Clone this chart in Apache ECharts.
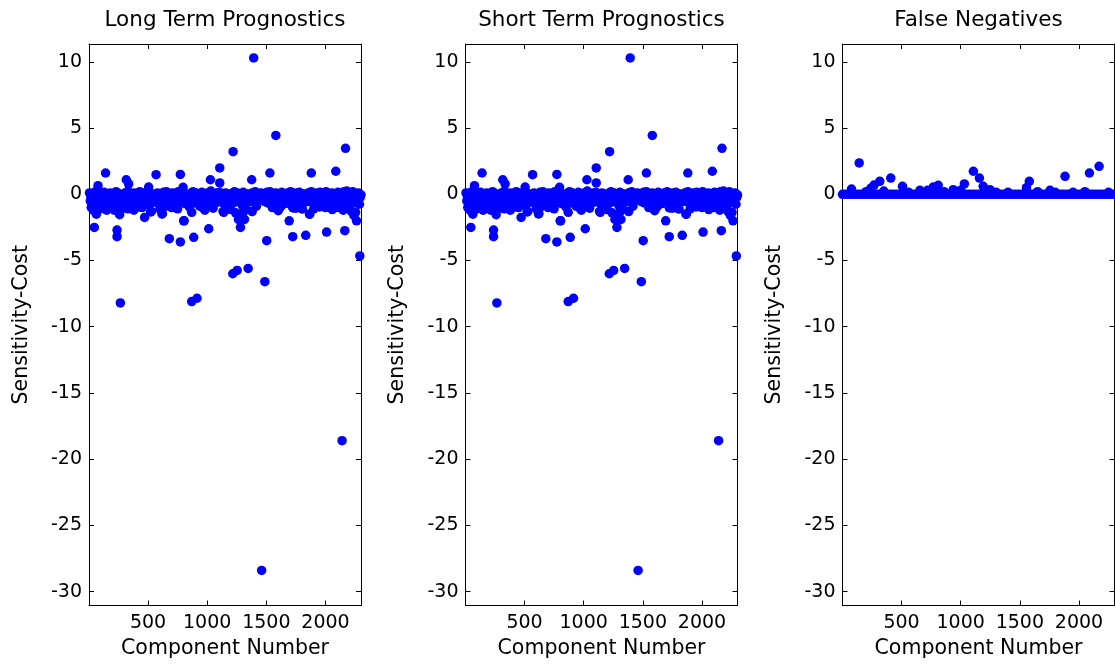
<!DOCTYPE html>
<html>
<head>
<meta charset="utf-8">
<script src="https://cdn.jsdelivr.net/npm/echarts@6/dist/echarts.min.js"></script>
<style>html,body{margin:0;padding:0;background:#fff}#c{width:1115px;height:665px}</style>
</head>
<body>
<div id="c"></div>
<script>
// ---------- DATA ----------
const panelTitles = ['Long Term Prognostics', 'Short Term Prognostics', 'False Negatives'];
const xAxisName = 'Component Number';
const yAxisName = 'Sensitivity-Cost';
const xTicks = [500, 1000, 1500, 2000];
const yTicks = [10, 5, 0, -5, -10, -15, -20, -25, -30];

// dense cluster near zero (upper row) [component, value]
const bandUpper = [[5,0.1],[30,-0.05],[55,0.2],[80,0.05],[105,-0.1],[130,0.15],[155,0.0],[180,0.1],[205,-0.05],[230,0.2],[255,0.05],[280,-0.1],[305,0.1],[330,0.25],[355,0.0],[380,0.1],[405,-0.05],[430,0.2],[455,0.1],[480,0.0],[505,0.25],[530,0.05],[555,-0.1],[580,0.1],[605,0.0],[630,0.15],[655,0.2],[680,-0.05],[705,0.1],[730,0.05],[755,0.2],[780,0.0],[805,0.1],[830,-0.1],[855,0.05],[880,0.2],[905,0.1],[930,0.0],[955,0.15],[980,0.05],[1005,0.1],[1030,0.25],[1055,0.0],[1080,0.1],[1105,0.15],[1130,-0.05],[1155,0.1],[1180,0.0],[1205,0.05],[1230,0.2],[1255,0.1],[1280,0.0],[1305,0.15],[1330,0.05],[1355,-0.05],[1380,0.1],[1405,0.2],[1430,0.0],[1455,0.1],[1480,0.05],[1505,0.15],[1530,0.2],[1555,0.0],[1580,0.1],[1605,0.05],[1630,0.15],[1655,-0.05],[1680,0.1],[1705,0.2],[1730,0.0],[1755,0.1],[1780,0.15],[1805,0.05],[1830,-0.05],[1855,0.1],[1880,0.2],[1905,0.0],[1930,0.1],[1955,0.15],[1980,0.05],[2005,0.2],[2030,-0.05],[2055,0.1],[2080,0.0],[2105,0.15],[2130,0.1],[2155,0.2],[2180,0.25],[2205,0.1],[2230,0.2],[2255,0.05],[2280,0.1],[2300,-0.05]];
// dense cluster near zero (middle row)
const bandMiddle = [[18,-0.25],[43,-0.35],[68,-0.2],[93,-0.3],[118,-0.4],[143,-0.2],[168,-0.3],[193,-0.25],[218,-0.35],[243,-0.2],[268,-0.3],[293,-0.4],[318,-0.25],[343,-0.2],[368,-0.35],[393,-0.3],[418,-0.2],[443,-0.35],[468,-0.25],[493,-0.3],[518,-0.2],[543,-0.35],[568,-0.25],[593,-0.3],[618,-0.2],[643,-0.35],[668,-0.25],[693,-0.3],[718,-0.2],[743,-0.35],[768,-0.25],[793,-0.3],[818,-0.2],[843,-0.3],[868,-0.25],[893,-0.35],[918,-0.2],[943,-0.3],[968,-0.25],[993,-0.35],[1018,-0.2],[1043,-0.3],[1068,-0.25],[1093,-0.35],[1118,-0.2],[1143,-0.3],[1168,-0.25],[1193,-0.35],[1218,-0.2],[1243,-0.3],[1268,-0.25],[1293,-0.35],[1318,-0.2],[1343,-0.3],[1368,-0.25],[1393,-0.2],[1418,-0.3],[1443,-0.25],[1468,-0.2],[1493,-0.3],[1518,-0.25],[1543,-0.2],[1568,-0.3],[1593,-0.25],[1618,-0.35],[1643,-0.2],[1668,-0.3],[1693,-0.25],[1718,-0.35],[1743,-0.2],[1768,-0.3],[1793,-0.25],[1818,-0.35],[1843,-0.2],[1868,-0.3],[1893,-0.25],[1918,-0.35],[1943,-0.2],[1968,-0.3],[1993,-0.25],[2018,-0.35],[2043,-0.2],[2068,-0.3],[2093,-0.25],[2118,-0.35],[2143,-0.2],[2168,-0.3],[2193,-0.25],[2218,-0.35],[2243,-0.2],[2268,-0.3],[2293,-0.25]];
// dense cluster near zero (lower row)
const bandLower = [[12,-0.5],[37,-0.7],[62,-0.4],[87,-0.85],[112,-0.55],[137,-0.3],[162,-0.7],[187,-0.45],[212,-0.6],[237,-0.9],[262,-0.4],[287,-0.65],[312,-0.35],[337,-0.75],[362,-0.5],[387,-0.6],[412,-0.3],[437,-0.7],[462,-0.45],[487,-0.55],[512,-0.8],[537,-0.4],[562,-0.6],[587,-0.35],[612,-0.65],[637,-0.5],[662,-0.4],[687,-0.7],[712,-0.55],[737,-0.3],[762,-0.6],[787,-0.45],[812,-0.7],[837,-0.4],[862,-0.55],[887,-0.65],[912,-0.35],[937,-0.6],[962,-0.45],[987,-0.7],[1012,-0.4],[1037,-0.55],[1062,-0.3],[1087,-0.6],[1112,-0.5],[1137,-0.65],[1162,-0.35],[1187,-0.55],[1212,-0.45],[1237,-0.6],[1262,-0.3],[1287,-0.5],[1312,-0.7],[1337,-0.4],[1362,-0.55],[1387,-0.35],[1412,-0.6],[1437,-0.45],[1462,-0.3],[1487,-0.55],[1512,-0.65],[1537,-0.4],[1562,-0.5],[1587,-0.35],[1612,-0.6],[1637,-0.45],[1662,-0.7],[1687,-0.4],[1712,-0.55],[1737,-0.35],[1762,-0.6],[1787,-0.45],[1812,-0.65],[1837,-0.4],[1862,-0.55],[1887,-0.3],[1912,-0.6],[1937,-0.5],[1962,-0.7],[1987,-0.4],[2012,-0.55],[2037,-0.35],[2062,-0.65],[2087,-0.5],[2112,-0.4],[2137,-0.7],[2162,-0.55],[2187,-0.8],[2212,-0.45],[2237,-0.65],[2262,-0.5],[2287,-0.75]];
// points just below the cluster
const bandBelow = [[20,-1.0],[40,-1.2],[70,-0.95],[95,-1.1],[125,-0.9],[170,-1.05],[215,-1.2],[250,-0.95],[290,-1.05],[350,-0.9],[380,-1.2],[450,-1.0],[600,-1.1],[650,-0.9],[750,-1.1],[850,-0.95],[960,-1.0],[1050,-1.05],[1200,-1.15],[1240,-1.4],[1330,-1.1],[1380,-1.3],[1620,-0.95],[1750,-1.05],[1900,-1.1],[2000,-1.0],[2150,-1.2]];

// scattered points of the long term panel
const longTermScatter = [[46,-2.5],[238,-2.7],[238,-3.2],[266,-8.2],[260,-1.54],[63,-1.5],[471,-1.75],[522,-1.33],[618,-1.48],[680,-3.35],[773,-3.6],[805,-2.0],[869,-1.36],[886,-3.25],[869,-8.1],[914,-7.85],[1013,-2.6],[1140,-1.36],[1216,-6.0],[1253,-5.75],[1264,-1.9],[1281,-2.5],[1300,-0.9],[1309,-1.3],[1346,-5.6],[1487,-6.6],[1503,-3.5],[1600,-1.24],[1693,-2.0],[1723,-1.0],[1723,-3.2],[1803,-1.1],[1833,-3.1],[1865,-1.5],[2009,-2.85],[2057,-1.15],[2163,-2.75],[2140,-18.6],[2290,-4.65],[2254,-1.36],[2262,-2.0],[1460,-28.4],
[1393,10.3],[1580,4.45],[2169,3.47],[1219,3.22],[1106,1.99],[141,1.61],[568,1.48],[773,1.5],[1027,1.1],[1106,0.86],[1376,1.1],[1530,1.61],[1880,1.61],[2087,1.74],[316,1.1],[336,0.78],[77,0.65],[796,0.53],[505,0.55],
[937,-0.9],[1134,-1.29],[1416,-0.9],[2192,-1.0],[2220,-1.3],[2240,-1.6],[1727,-1.03],[1805,-1.1],[1867,-1.49],[1315,-1.9],[1290,-1.6],[801,-2.0],[528,-1.29],[621,-1.46],[200,-1.0],[150,-1.2],[330,-1.1],[420,-0.95],[700,-1.0],[980,-1.2],[1180,-1.0],[1550,-1.0],[1950,-0.95],[2100,-1.0]];

// scattered points of the short term panel
const shortTermScatter = [[46,-2.5],[238,-2.7],[238,-3.2],[266,-8.2],[260,-1.54],[63,-1.5],[471,-1.75],[522,-1.33],[618,-1.48],[680,-3.35],[773,-3.6],[805,-2.0],[869,-1.36],[886,-3.25],[869,-8.1],[914,-7.85],[1013,-2.6],[1140,-1.36],[1216,-6.0],[1253,-5.75],[1264,-1.9],[1281,-2.5],[1300,-0.9],[1309,-1.3],[1346,-5.6],[1487,-6.6],[1503,-3.5],[1600,-1.24],[1693,-2.0],[1723,-1.0],[1723,-3.2],[1803,-1.1],[1833,-3.1],[1865,-1.5],[2009,-2.85],[2057,-1.15],[2163,-2.75],[2140,-18.6],[2290,-4.65],[2254,-1.36],[2262,-2.0],[1460,-28.4],
[1393,10.3],[1580,4.45],[2169,3.47],[1219,3.22],[1106,1.99],[141,1.61],[568,1.48],[773,1.5],[1027,1.1],[1106,0.86],[1376,1.1],[1530,1.61],[1880,1.61],[2087,1.74],[316,1.1],[336,0.78],[77,0.65],[796,0.53],[505,0.55],
[937,-0.9],[1134,-1.29],[1416,-0.9],[2192,-1.0],[2220,-1.3],[2240,-1.6],[1727,-1.03],[1805,-1.1],[1867,-1.49],[1315,-1.9],[1290,-1.6],[801,-2.0],[528,-1.29],[621,-1.46],[200,-1.0],[150,-1.2],[330,-1.1],[420,-0.95],[700,-1.0],[980,-1.2],[1180,-1.0],[1550,-1.0],[1950,-0.95],[2100,-1.0]];

// false negatives: components sitting on zero
const falseNegZeroComponents = [1,25,50,75,100,125,150,175,200,225,250,275,300,325,350,375,400,425,450,475,500,525,550,575,600,625,650,675,700,725,750,775,800,825,850,875,900,925,950,975,1000,1025,1050,1075,1100,1125,1150,1175,1200,1225,1250,1275,1300,1325,1350,1375,1400,1425,1450,1475,1500,1525,1550,1575,1600,1625,1650,1675,1700,1725,1750,1775,1800,1825,1850,1875,1900,1925,1950,1975,2000,2025,2050,2075,2100,2125,2150,2175,2200,2225,2250,2275,2300];
const falseNegZeroValues = falseNegZeroComponents.map(() => 0);
// false negatives above zero
const falseNegScatter = [[77,0.4],[142,2.37],[240,0.45],[268,0.7],[316,0.98],[409,1.23],[508,0.6],[655,0.3],[768,0.55],[810,0.68],[937,0.35],[1031,0.78],[1107,1.74],[1158,1.23],[1190,0.6],[1247,0.35],[1300,0.15],[1556,0.5],[1580,0.98],[1755,0.3],[1882,1.36],[2088,1.61],[2170,2.11],[200,0.2],[350,0.25],[560,0.15],[720,0.3],[860,0.2],[1000,0.3],[1400,0.15],[1650,0.2],[1800,0.15],[1950,0.15],[2050,0.2],[2250,0.15]];

// ---------- CHART ----------
const FONT = 'DejaVu Sans';
const X_MIN = 1, X_MAX = 2300, Y_MIN = -31.05, Y_MAX = 11.35;
const grids = [
  {left: 89, top: 44, width: 272, height: 561.5},
  {left: 465.5, top: 44, width: 272, height: 561.5},
  {left: 842.5, top: 44, width: 272, height: 561.5}
];
const blue = '#0000ff';

const xAxes = [], yAxes = [], series = [], graphics = [];
grids.forEach((g, i) => {
  const common = {
    type: 'value', gridIndex: i,
    axisLine: {show: true, onZero: false, lineStyle: {color: '#000', width: 1}},
    axisTick: {show: true, inside: true, length: 5, lineStyle: {color: '#000'}},
    splitLine: {show: false}
  };
  xAxes.push(Object.assign({}, common, {
    position: 'bottom', min: X_MIN, max: X_MAX, minInterval: 500, maxInterval: 500, splitNumber: 4,
    name: xAxisName, nameLocation: 'middle', nameGap: 33,
    nameTextStyle: {fontFamily: FONT, fontSize: 20.5, color: '#000'},
    axisLabel: {show: true, showMinLabel: false, showMaxLabel: false, margin: 8,
      fontFamily: FONT, fontSize: 19, color: '#000',
      formatter: v => xTicks.indexOf(v) >= 0 ? String(v) : ''}
  }));
  xAxes.push(Object.assign({}, common, {
    position: 'top', min: X_MIN, max: X_MAX, minInterval: 500, maxInterval: 500, splitNumber: 4,
    axisLabel: {show: false}
  }));
  yAxes.push(Object.assign({}, common, {
    position: 'left', min: Y_MIN, max: Y_MAX, minInterval: 5, maxInterval: 5, splitNumber: 8,
    name: yAxisName, nameLocation: 'middle', nameGap: 57, nameRotate: 90,
    nameTextStyle: {fontFamily: FONT, fontSize: 20.5, color: '#000'},
    axisLabel: {show: true, showMinLabel: false, showMaxLabel: false, margin: 7,
      fontFamily: FONT, fontSize: 19, color: '#000',
      formatter: v => yTicks.indexOf(v) >= 0 ? String(v) : ''}
  }));
  yAxes.push(Object.assign({}, common, {
    position: 'right', min: Y_MIN, max: Y_MAX, minInterval: 5, maxInterval: 5, splitNumber: 8,
    axisLabel: {show: false}
  }));
  graphics.push({
    type: 'text', x: g.left + g.width / 2, y: 20,
    style: {text: panelTitles[i], textAlign: 'center', textVerticalAlign: 'middle',
      fontFamily: FONT, fontSize: 21.5, fill: '#000'}
  });
});

function scatter(i, data) {
  return {
    type: 'scatter', xAxisIndex: i * 2, yAxisIndex: i * 2, data: data,
    symbol: 'circle', symbolSize: 9.5, itemStyle: {color: blue, opacity: 1},
    clip: false, silent: true, animation: false, large: false
  };
}
[0, 1].forEach(i => {
  series.push(scatter(i, bandUpper));
  series.push(scatter(i, bandMiddle));
  series.push(scatter(i, bandLower));
  series.push(scatter(i, bandBelow));
});
series.push(scatter(0, longTermScatter));
series.push(scatter(1, shortTermScatter));
series.push(scatter(2, falseNegZeroComponents.map((c, k) => [c, falseNegZeroValues[k]])));
series.push(scatter(2, falseNegScatter));

const chart = echarts.init(document.getElementById('c'), null, {renderer: 'canvas'});
chart.setOption({
  animation: false,
  backgroundColor: '#fff',
  grid: grids,
  xAxis: xAxes,
  yAxis: yAxes,
  series: series,
  graphic: graphics
});
</script>
</body>
</html>
